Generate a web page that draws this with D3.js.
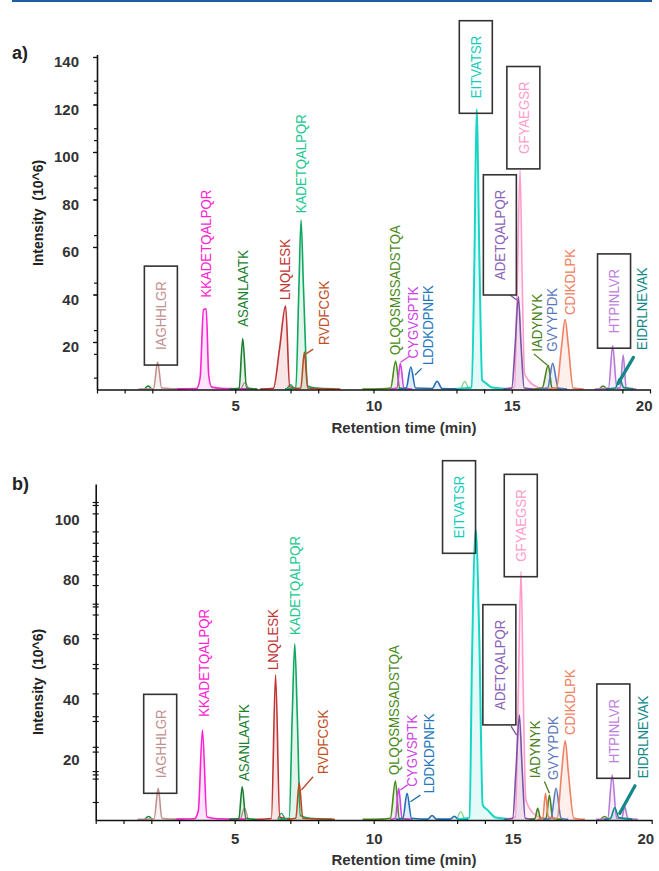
<!DOCTYPE html>
<html lang="en">
<head>
<meta charset="UTF-8">
<title>Peptide chromatograms</title>
<script src="https://cdn.jsdelivr.net/npm/d3@7"></script>
<style>
  body { margin: 0; background: #fff; }
  svg { display: block; font-family: "Liberation Sans", Arial, sans-serif; }
</style>
</head>
<body>
<script>

  // peptides, in the same order in every array below
  var peptides = ["IAGHHLGR", "KKADETQALPQR", "ASANLAATK", "LNQLESK", "KADETQALPQR",
    "RVDFCGK", "QLQQSMSSADSTQA", "CYGVSPTK", "LDDKDPNFK", "EITVATSR", "GFYAEGSR",
    "ADETQALPQR", "IADYNYK", "GVYYPDK", "CDIKDLPK", "HTPINLVR", "EIDRLNEVAK"];

  var colors = ["#c39090", "#ff22d2", "#1a8030", "#c23535", "#10a860", "#b94c22",
    "#4a8a1a", "#cc44e2", "#1f6fb8", "#18d6c4", "#ff9ccc", "#7a52a8", "#4a8020",
    "#5a78bc", "#f08060", "#b87ad8", "#138888"];

  var labelColors = ["#c39090", "#ff22d2", "#1a8030", "#c23535", "#22c890", "#c0501e",
    "#4a8a1a", "#cc44e2", "#1f78c0", "#12ccbc", "#ff9ccc", "#8a62b8", "#4a8020",
    "#5a78bc", "#f08060", "#c080e0", "#138888"];

  var boxed = ["IAGHHLGR", "EITVATSR", "GFYAEGSR", "ADETQALPQR", "HTPINLVR"];

  // traces of panel a: [time (min), intensity (10^6)]
  var peaksA = [
    [[1.5,0.2],[2.05,0.4],[2.19,11.6],[2.34,0.6],[2.8,0.3],[3.2,0.2]],
    [[2.9,0.3],[3.6,0.4],[3.73,5],[3.85,33.5],[3.95,34],[4.04,6],[4.15,1],[4.6,0.4],[5.6,0.3]],
    [[4.8,0.2],[5.14,0.5],[5.27,21.5],[5.41,0.6],[5.8,0.2]],
    [[5.9,0.2],[6.38,0.5],[6.6,17],[6.82,35.2],[6.97,1.2],[7.3,0.3]],
    [[6.8,0.3],[7.19,0.6],[7.3,42],[7.38,71.3],[7.47,42],[7.62,1.5],[7.9,0.6],[8.6,0.3]],
    [[7.1,0.3],[7.37,0.6],[7.5,15.8],[7.62,0.6],[8.0,0.4],[8.8,0.2]],
    [[9.6,0.2],[10.3,0.3],[10.62,0.6],[10.8,12],[10.95,0.6],[11.3,0.2]],
    [[10.6,0.2],[10.85,0.6],[10.97,11],[11.1,0.6],[11.4,0.2]],
    [[10.9,0.2],[11.18,0.6],[11.35,9.5],[11.52,0.6],[12.12,0.4],[12.3,3.5],[12.48,0.4],[13.2,0.3]],
    [[13.0,0.3],[13.55,0.8],[13.65,55],[13.73,118],[13.83,55],[13.93,4],[14.05,2.8],[14.3,0.8],[14.8,0.3]],
    [[14.8,0.3],[15.1,1],[15.2,45],[15.3,92.3],[15.38,45],[15.46,7],[15.6,4],[15.9,1.2],[16.3,0.3]],
    [[14.7,0.2],[15.0,0.6],[15.12,18],[15.24,39],[15.34,18],[15.45,0.6],[15.8,0.2]],
    [[15.8,0.2],[16.1,0.6],[16.32,10.2],[16.46,0.6],[16.8,0.2]],
    [[16.0,0.2],[16.3,0.6],[16.48,11],[16.68,0.6],[17.0,0.2]],
    [[16.3,0.2],[16.62,0.6],[16.8,18],[16.93,29.5],[17.05,18],[17.22,0.6],[17.6,0.2]],
    [[18.0,0.2],[18.5,0.6],[18.65,18.4],[18.8,0.6],[18.92,0.6],[19.03,14.5],[19.14,0.6],[19.5,0.2]],
    [[18.4,0.2],[18.75,0.6],[18.9,4.6],[19.05,0.8],[19.4,0.3]]
  ];

  // traces of panel b
  var peaksB = [
    [[1.5,0.2],[2.1,0.4],[2.25,10.6],[2.38,0.6],[2.8,0.3],[3.2,0.2]],
    [[2.9,0.3],[3.55,0.4],[3.69,3],[3.84,30],[4.0,1],[4.4,0.4],[5.4,0.3]],
    [[4.8,0.2],[5.15,0.5],[5.27,11.1],[5.4,0.6],[5.8,0.2]],
    [[5.8,0.2],[6.32,0.5],[6.47,48.3],[6.62,1],[7.0,0.3]],
    [[6.6,0.3],[6.96,0.6],[7.07,35],[7.16,58.7],[7.25,35],[7.36,1.5],[7.7,0.6],[8.5,0.3]],
    [[6.9,0.3],[7.2,0.6],[7.32,12.4],[7.45,0.6],[7.9,0.4],[8.6,0.2]],
    [[9.6,0.2],[10.3,0.3],[10.6,0.6],[10.78,13],[10.92,0.6],[11.3,0.2]],
    [[10.6,0.2],[10.78,0.6],[10.9,10.6],[11.02,0.6],[11.4,0.2]],
    [[10.8,0.2],[11.05,0.6],[11.2,8.9],[11.36,0.6],[11.95,0.3],[12.1,1.5],[12.25,0.3],[12.75,0.3],[12.9,1.2],[13.05,0.3],[13.4,0.2]],
    [[13.0,0.3],[13.45,0.8],[13.53,50],[13.67,96.9],[13.8,60],[13.92,5],[14.1,3.3],[14.4,0.8],[14.9,0.3]],
    [[14.8,0.3],[15.1,1],[15.2,42],[15.3,82.8],[15.38,42],[15.47,7],[15.6,4],[15.9,1.2],[16.3,0.3]],
    [[14.7,0.2],[15.0,0.6],[15.12,17],[15.24,35],[15.34,17],[15.45,0.6],[15.8,0.2]],
    [[15.6,0.2],[15.8,0.5],[15.9,3.9],[16.0,0.5],[16.2,0.5],[16.32,8.3],[16.44,0.6],[16.8,0.2]],
    [[16.1,0.2],[16.38,0.6],[16.56,10.6],[16.74,0.6],[17.0,0.2]],
    [[15.9,0.2],[16.08,0.6],[16.18,8.9],[16.28,1],[16.6,0.6],[16.76,16],[16.89,26.4],[17.0,16],[17.2,0.6],[17.6,0.2]],
    [[18.0,0.2],[18.42,0.6],[18.58,15],[18.74,0.6],[18.92,0.6],[19.03,4.4],[19.14,0.6],[19.5,0.2]],
    [[18.3,0.2],[18.52,0.6],[18.67,4.1],[18.82,0.8],[19.3,0.3]]
  ];

  // small unlabelled bumps
  var minorTimeA = [1.85, 5.35, 7.0, 13.3, 18.3];
  var minorHeightA = [1.5, 3.0, 2.0, 3.4, 1.5];
  var minorTimeB = [1.9, 5.35, 6.68, 13.13, 18.3];
  var minorHeightB = [1.2, 3.9, 2.2, 2.8, 1.2];
  var minorColors = ["#1a8030", "#c39090", "#10a860", "#7fd67f", "#4a8a1a"];

  // where each label starts (time, intensity at its lower end)
  var labelTimeA = [2.31, 3.93, 5.27, 6.77, 7.38, 8.19, 10.78, 11.4, 11.96, 13.7, 15.42, 14.57, 15.9, 16.44, 17.08, 18.7, 19.7];
  var labelBaseA = [16.6, 38.7, 26.4, 37.7, 74.2, 18.7, 14.5, 13.1, 10.3, 122.6, 99.2, 46.1, 15.9, 15.9, 31.4, 23.7, 16.6];
  var labelTimeB = [2.32, 3.87, 5.31, 6.37, 7.17, 8.17, 10.71, 11.37, 11.96, 13.07, 15.29, 14.52, 15.8, 16.44, 17.04, 18.62, 19.66];
  var labelBaseB = [13.9, 34.4, 13, 50, 61.7, 15.3, 15, 11.1, 8.9, 93.9, 86.1, 36.7, 13.9, 13.3, 28.3, 18.9, 13.9];

  // leader lines: [peptide index, t1, v1, t2, v2]
  var leadersA = [[5,7.56,15,7.82,17],[7,10.98,11.5,11.3,14],[8,11.5,6.1,11.74,8.9],
    [12,15.8,15,16.29,10.2],[11,14.94,39.8,15.18,37.7]];
  var leadersB = [[5,7.4,10,7.82,14.4],[7,10.96,10,11.22,11.7],[8,11.32,6.1,11.68,8.3],
    [12,16.14,12.8,16.32,8.9],[11,14.94,31.3,15.14,28.3]];
  var thickLeaderA = [18.85, 2.6, 19.4, 13.5];
  var thickLeaderB = [18.85, 2.2, 19.4, 11.4];

  // axes
  var xTicksA = [0, 1, 2, 5, 7, 8, 10, 13, 14, 15, 19, 20];
  var xTicksB = [0, 1, 2, 3, 5, 7, 8, 10, 13, 14, 15, 18, 20];
  var xLabels = [5, 10, 15, 20];
  var yTicksA = [5, 15, 20, 25, 40, 45, 60, 65, 80, 85, 90, 100, 105, 110, 120, 125, 130, 140];
  var yLabelsA = [20, 40, 60, 80, 100, 120, 140];
  var yTicksB = [6, 13.8, 15.2, 16.3, 22.8, 24.4, 33, 34.6, 42.2, 50.6, 52, 60.6, 62, 68.5,
    71.2, 72.1, 78.3, 81.9, 86.4, 88, 92.4, 96.2, 102.2, 105, 106];
  var yLabelsB = [20, 40, 60, 80, 100];

  var svg = d3.select("body").append("svg")
      .attr("width", 659)
      .attr("height", 871);

  // journal rule on top
  svg.append("line")
      .attr("x1", 12).attr("x2", 652)
      .attr("y1", 1).attr("y2", 1)
      .attr("stroke", "#1f5ca6")
      .attr("stroke-width", 2);

  var drawPanel = function(p) {
    var x = d3.scaleLinear().domain([0, 20]).range(p.xRange);
    var y = d3.scaleLinear().domain([0, p.yMax]).range(p.yRange);
    var g = svg.append("g");

    var line = d3.line()
        .x(function(d) { return x(d[0]); })
        .y(function(d) { return y(d[1]); })
        .curve(d3.curveMonotoneX);
    var area = d3.area()
        .x(function(d) { return x(d[0]); })
        .y0(y(0))
        .y1(function(d) { return y(d[1]); })
        .curve(d3.curveMonotoneX);

    // small bumps
    p.minorTime.forEach(function(t, i) {
      var h = p.minorHeight[i];
      var pts = [[t - 0.13, 0.2], [t, h], [t + 0.13, 0.2]];
      g.append("path").attr("d", line(pts))
          .attr("fill", "none").attr("stroke", minorColors[i]).attr("stroke-width", 1.4);
    });

    // fills then traces
    g.selectAll("path.fill").data(p.peaks).enter().append("path")
        .attr("class", "fill")
        .attr("d", area)
        .attr("fill", function(d, i) { return colors[i]; })
        .attr("fill-opacity", 0.12);

    g.selectAll("path.trace").data(p.peaks).enter().append("path")
        .attr("class", "trace")
        .attr("d", line)
        .attr("fill", "none")
        .attr("stroke", function(d, i) { return colors[i]; })
        .attr("stroke-width", function(d, i) { return i === 9 ? 2 : 1.6; })
        .attr("stroke-linejoin", "round");

    p.leaders.forEach(function(l) {
      g.append("line")
          .attr("x1", x(l[1])).attr("y1", y(l[2]))
          .attr("x2", x(l[3])).attr("y2", y(l[4]))
          .attr("stroke", colors[l[0]]).attr("stroke-width", 1.3);
    });
    g.append("line")
        .attr("x1", x(p.thick[0])).attr("y1", y(p.thick[1]))
        .attr("x2", x(p.thick[2])).attr("y2", y(p.thick[3]))
        .attr("stroke", colors[16]).attr("stroke-width", 3.2)
        .attr("stroke-linecap", "round");

    // peptide labels (rotated), boxed ones get a frame
    peptides.forEach(function(name, i) {
      var lx = x(p.labelTime[i]);
      var ly = y(p.labelBase[i]);
      var t = g.append("text")
          .attr("transform", "translate(" + lx + "," + ly + ") rotate(-90)")
          .attr("dy", "0.36em")
          .attr("font-size", 15)
          .attr("fill", labelColors[i])
          .text(name);
      var len = t.node().getComputedTextLength() * 0.88;
      t.attr("textLength", len).attr("lengthAdjust", "spacingAndGlyphs");
      if (boxed.indexOf(name) >= 0) {
        g.insert("rect", "text")
            .attr("x", lx - 16.5)
            .attr("y", ly - len - 15)
            .attr("width", 33)
            .attr("height", len + 30)
            .attr("fill", "none")
            .attr("stroke", "#333")
            .attr("stroke-width", 1.6);
      }
    });

    // axes
    var xAxis = g.append("g")
        .attr("transform", "translate(0," + y(0) + ")")
        .call(d3.axisBottom(x).tickValues(p.xTicks).tickSize(4).tickSizeOuter(0)
          .tickPadding(p.xPad)
          .tickFormat(function(d) { return xLabels.indexOf(d) >= 0 ? d : ""; }));
    // last label sits left of its tick so it stays on the page
    xAxis.selectAll(".tick text")
        .filter(function(d) { return d === 20; })
        .attr("text-anchor", "end")
        .attr("x", 2);

    var yAxis = g.append("g")
        .attr("transform", "translate(" + x(0) + ",0)")
        .call(d3.axisLeft(y).tickValues(p.yTicks).tickSize(3).tickSizeOuter(0)
          .tickFormat(""));
    yAxis.selectAll(".tick line").attr("x1", p.yCross);

    var yLab = g.append("g")
        .attr("transform", "translate(" + x(0) + ",0)")
        .call(d3.axisLeft(y).tickValues(p.yLabels).tickSize(p.yLabelTick).tickSizeOuter(0)
          .tickPadding(p.yPad));
    yLab.select(".domain").remove();
    yLab.selectAll("text").attr("y", p.yShift);

    [xAxis, yAxis, yLab].forEach(function(a) {
      a.selectAll(".domain").attr("stroke", "#111").attr("stroke-width", 1.6);
      a.selectAll(".tick line").attr("stroke", "#111").attr("stroke-width", 1.2);
      a.selectAll("text")
          .attr("font-family", "'Liberation Sans', Arial, sans-serif")
          .attr("font-size", 15)
          .attr("font-weight", "bold")
          .attr("fill", "#333");
    });

    g.append("text")
        .attr("x", p.xTitle[0]).attr("y", p.xTitle[1])
        .attr("text-anchor", "middle")
        .attr("font-size", 15).attr("font-weight", "bold").attr("fill", "#333")
        .text("Retention time (min)");

    g.append("text")
        .attr("transform", "translate(38," + p.yTitle + ") rotate(-90)")
        .attr("text-anchor", "middle")
        .attr("dy", "0.35em")
        .attr("font-size", 14).attr("font-weight", "bold").attr("fill", "#222")
        .style("white-space", "pre")
        .text("Intensity  (10^6)");

    g.append("text")
        .attr("x", 12).attr("y", p.tag[1])
        .attr("font-size", 18).attr("font-weight", "bold").attr("fill", "#222")
        .text(p.tag[0]);
  };

  drawPanel({
    peaks: peaksA, minorTime: minorTimeA, minorHeight: minorHeightA,
    labelTime: labelTimeA, labelBase: labelBaseA, leaders: leadersA, thick: thickLeaderA,
    xTicks: xTicksA, yTicks: yTicksA, yLabels: yLabelsA,
    xRange: [97, 650], yMax: 141, yRange: [389.5, 54.6],
    xPad: 7, yPad: 14, yShift: 5, yCross: 1, yLabelTick: 4,
    xTitle: [404, 433], yTitle: 213, tag: ["a)", 59]
  });

  drawPanel({
    peaks: peaksB, minorTime: minorTimeB, minorHeight: minorHeightB,
    labelTime: labelTimeB, labelBase: labelBaseB, leaders: leadersB, thick: thickLeaderB,
    xTicks: xTicksB, yTicks: yTicksB, yLabels: yLabelsB,
    xRange: [95.7, 651.7], yMax: 112, yRange: [820, 484],
    xPad: 9, yPad: 16, yShift: 0, yCross: 3, yLabelTick: 0,
    xTitle: [404, 865], yTitle: 682, tag: ["b)", 490]
  });

</script>
</body>
</html>
